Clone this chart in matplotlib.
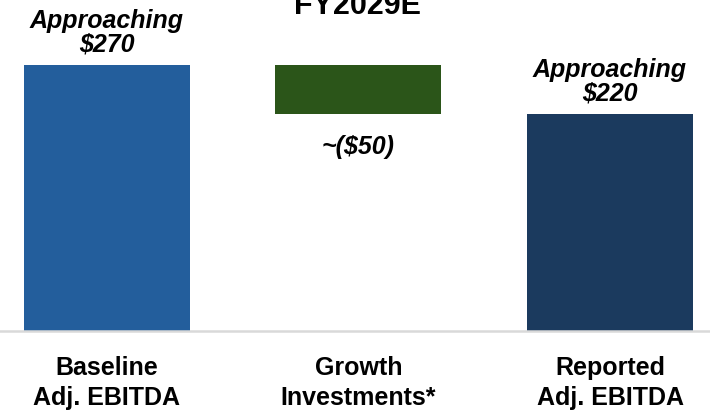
import matplotlib

matplotlib.use("Agg")
import matplotlib.pyplot as plt

# --- data ----------------------------------------------------------------
categories = ["Baseline\nAdj. EBITDA", "Growth\nInvestments*", "Reported\nAdj. EBITDA"]
values = [270, -50, 220]          # baseline, change, result
kinds = ["total", "delta", "total"]
value_labels = ["Approaching\n$270", "~($50)", "Approaching\n$220"]
colors = ["#235E9C", "#2B5519", "#1B3A5E"]
title = "FY2029E"

plt.rcParams["font.family"] = ["Liberation Sans", "DejaVu Sans"]

fig = plt.figure(figsize=(7.1, 4.13), dpi=100)
ax = fig.add_axes([0, 0.1985, 1, 0.8015])

x = list(range(len(categories)))
bottoms, heights = [], []
running = 0
for v, k in zip(values, kinds):
    if k == "total":
        bottoms.append(0)
        heights.append(v)
        running = v
    else:
        bottoms.append(running + v if v < 0 else running)
        heights.append(abs(v))
        running += v

ax.bar(x, heights, bottom=bottoms, width=0.66, color=colors)

for xi, b, h, k, lab in zip(x, bottoms, heights, kinds, value_labels):
    if k == "total":
        ax.annotate(lab, (xi, b + h), xytext=(0, 6), textcoords="offset points",
                    ha="center", va="bottom", fontsize=18, fontweight="bold",
                    fontstyle="italic", linespacing=1.0)
    else:
        ax.annotate(lab, (xi, b), xytext=(0, -15), textcoords="offset points",
                    ha="center", va="top", fontsize=18, fontweight="bold",
                    fontstyle="italic")

ax.set_xlim(-0.4254, 2.3976)
ax.set_ylim(0, 336)
ax.set_xticks(x)
ax.set_xticklabels(categories, fontsize=18, fontweight="bold", linespacing=1.3)
ax.tick_params(axis="x", length=0, pad=18)
ax.set_yticks([])
for s in ["top", "left", "right"]:
    ax.spines[s].set_visible(False)
ax.spines["bottom"].set_color("#D9D9D9")
ax.spines["bottom"].set_linewidth(1.8)

fig.text(358 / 710, (413 - 14) / 413, title, ha="center", va="baseline",
         fontsize=22, fontweight="bold")

fig.savefig("out.png", dpi=100)
